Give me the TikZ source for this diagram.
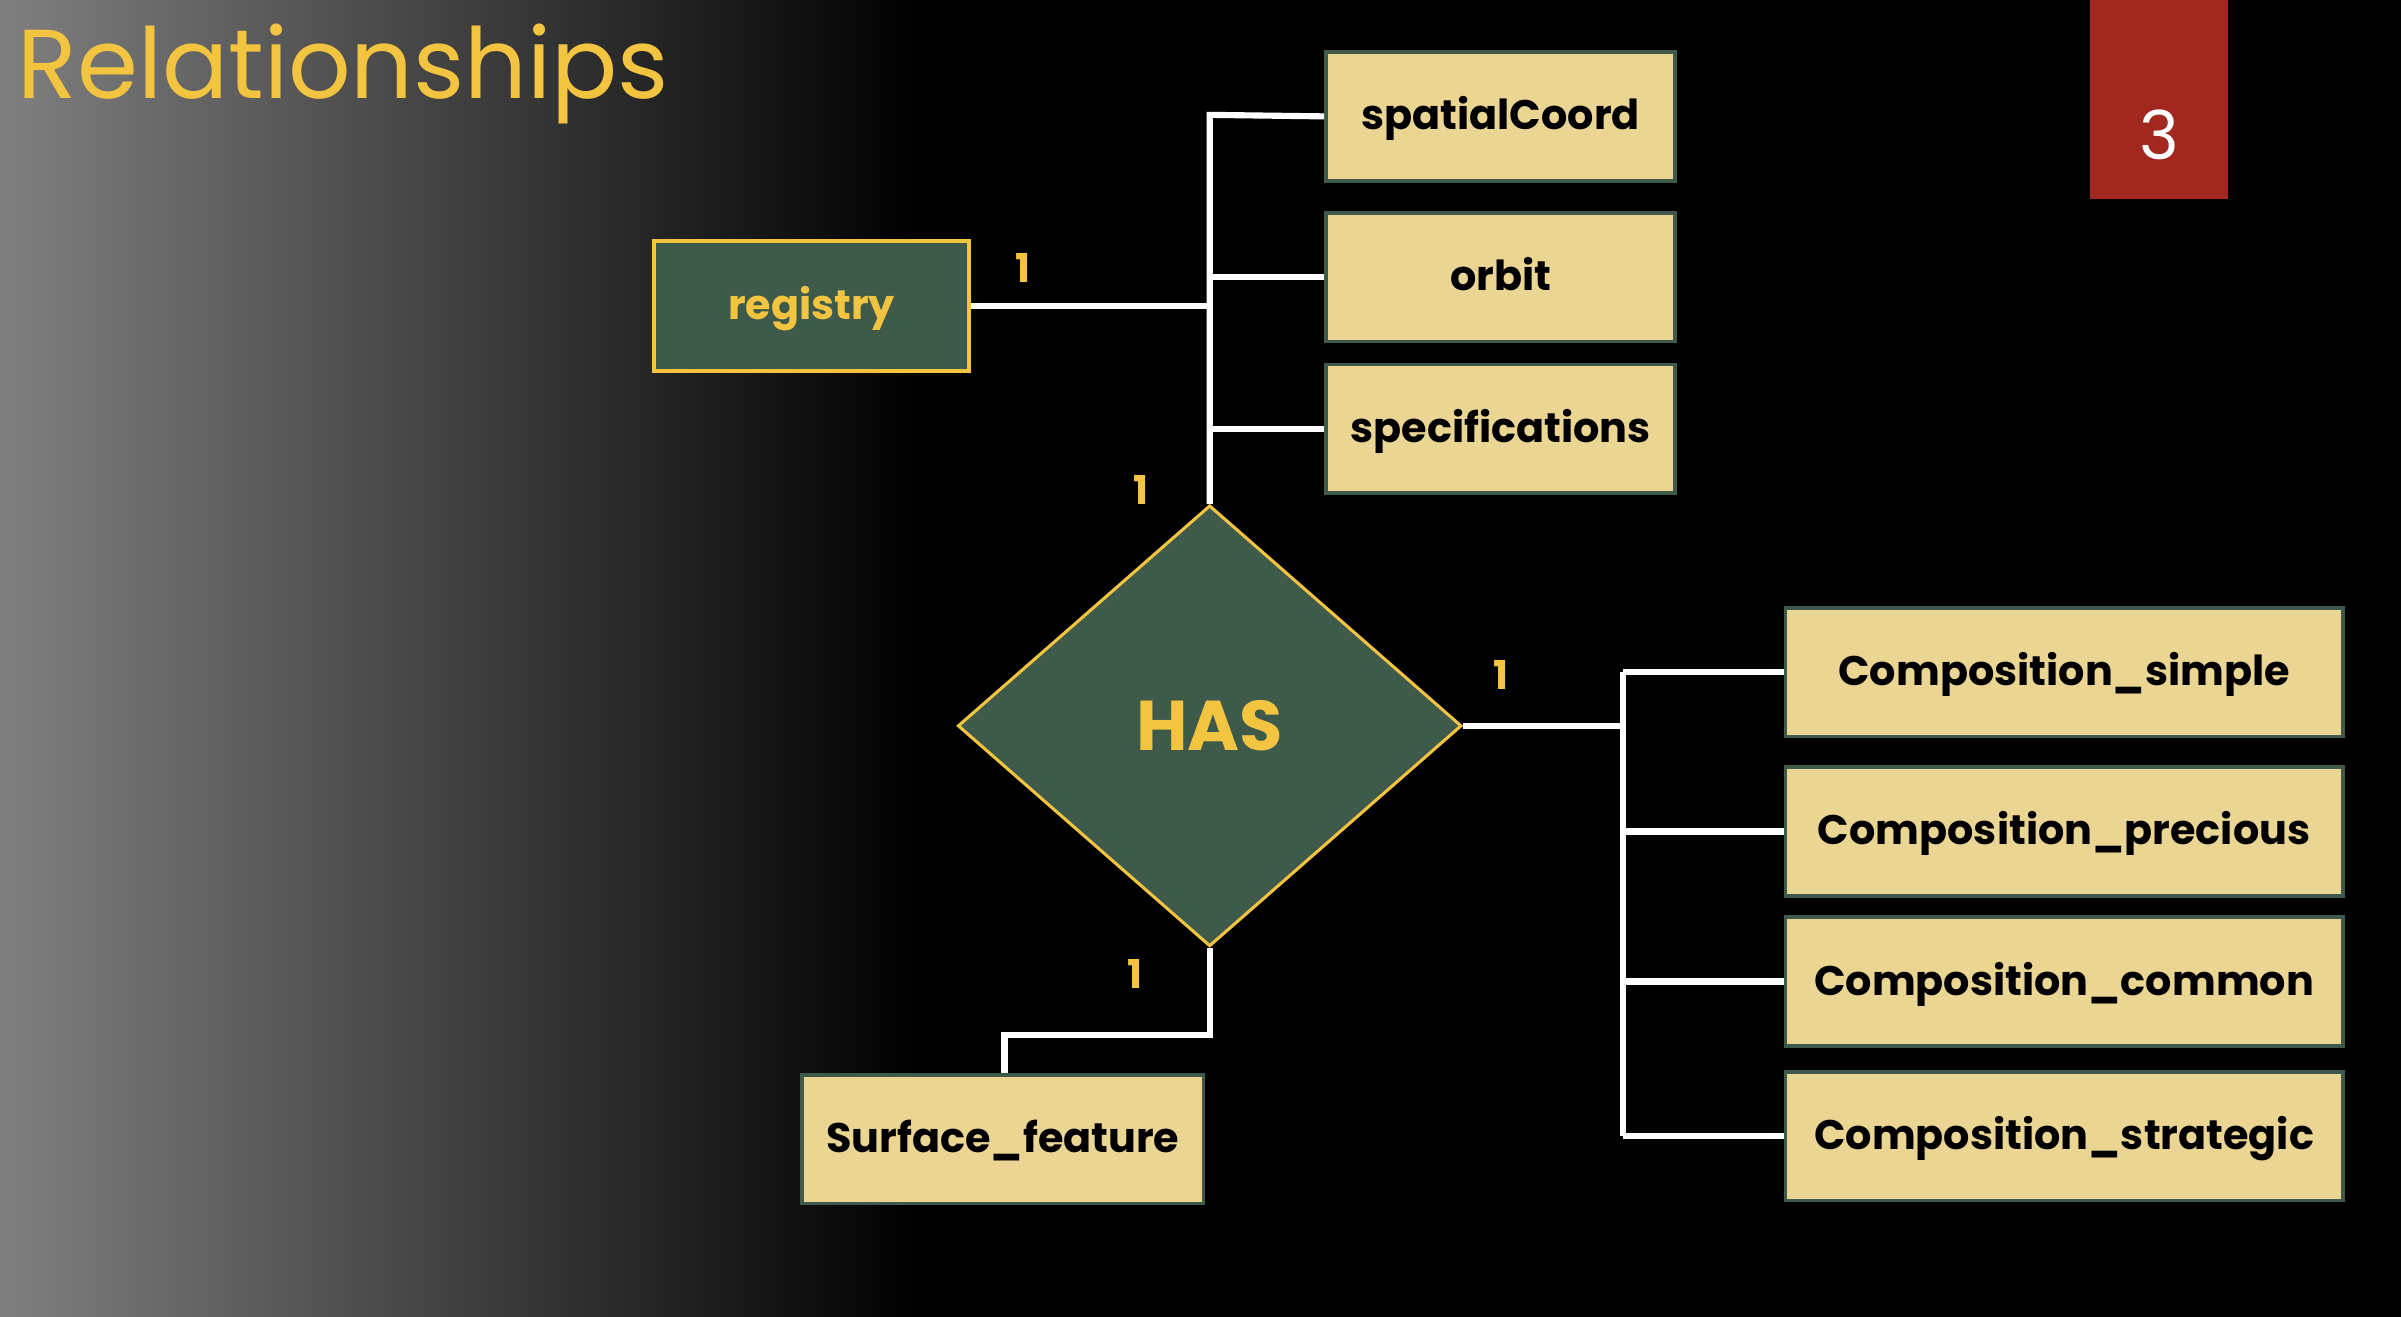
\documentclass[tikz,border=0pt]{standalone}
\usepackage{fontspec}
\setmainfont{Poppins}
\usetikzlibrary{shapes.geometric}
\definecolor{gold}{HTML}{F2C440}
\definecolor{dgreen}{HTML}{3D5A4A}
\definecolor{tan}{HTML}{EAD593}
\definecolor{redbox}{HTML}{A2281F}
\begin{document}
\begin{tikzpicture}[x=1pt,y=-1pt,
  attr/.style={draw=dgreen,line width=2.5pt,fill=tan,minimum height=84pt,font=\fontsize{27}{30}\selectfont\bfseries,text=black,inner sep=0pt,text depth=4pt},
  ent/.style={draw=gold,line width=2.5pt,fill=dgreen,minimum width=206pt,minimum height=85pt,font=\fontsize{27}{30}\selectfont\bfseries,text=gold,text depth=4pt},
  card/.style={font=\fontsize{26}{28}\selectfont\bfseries,text=gold},
  ln/.style={white,line width=4pt}]
\useasboundingbox (0,0) rectangle (1568,860);
\fill[black] (0,0) rectangle (1568,860);
\shade[left color=black!50!white,right color=black] (0,0) rectangle (600,860);
\node[anchor=west,text=gold,font=\fontsize{64}{68}\selectfont] (title) at (8,48) {Relationships};
\fill[redbox] (1365,0) rectangle (1455,130);
\node[text=white,font=\fontsize{44}{48}\selectfont] (num) at (1410,88) {3};
\node[ent] (reg) at (530,200) {registry};
\node[attr,minimum width=228pt] (sc) at (980,76) {spatialCoord};
\node[attr,minimum width=228pt] (orb) at (980,181) {orbit};
\node[attr,minimum width=228pt] (spec) at (980,280) {specifications};
\node[diamond,draw=gold,line width=2pt,fill=dgreen,minimum width=329pt,minimum height=288pt,inner sep=0pt,text=gold,font=\fontsize{46}{50}\selectfont\bfseries] (has) at (790,474) {HAS};
\node[attr,minimum width=364pt] (c1) at (1348,439) {Composition\_simple};
\node[attr,minimum width=364pt] (c2) at (1348,543) {Composition\_precious};
\node[attr,minimum width=364pt] (c3) at (1348,641) {Composition\_common};
\node[attr,minimum width=364pt] (c4) at (1348,742) {Composition\_strategic};
\node[attr,minimum width=262pt] (sf) at (655,744) {Surface\_feature};
\coordinate (vt) at (790,75);
\coordinate (jr) at (1060,474);
\draw[ln] (has.north) -- (vt) -- (sc.west);
\draw[ln] (790,181) -- (orb.west);
\draw[ln] (790,280) -- (spec.west);
\draw[ln] (reg.east) -- (790,200);
\draw[ln] (has.east) -- (jr);
\draw[ln] (1060,439) -- (1060,742);
\draw[ln] (1060,439) -- (c1.west);
\draw[ln] (1060,543) -- (c2.west);
\draw[ln] (1060,641) -- (c3.west);
\draw[ln] (1060,742) -- (c4.west);
\draw[ln] (has.south) -- (790,676) -- (656,676) -- (sf.north -| 656,0);
\node[card] (k1) at (668,175) {1};
\node[card] (k2) at (745,320) {1};
\node[card] (k3) at (980,441) {1};
\node[card] (k4) at (741,636) {1};
\end{tikzpicture}
\end{document}
